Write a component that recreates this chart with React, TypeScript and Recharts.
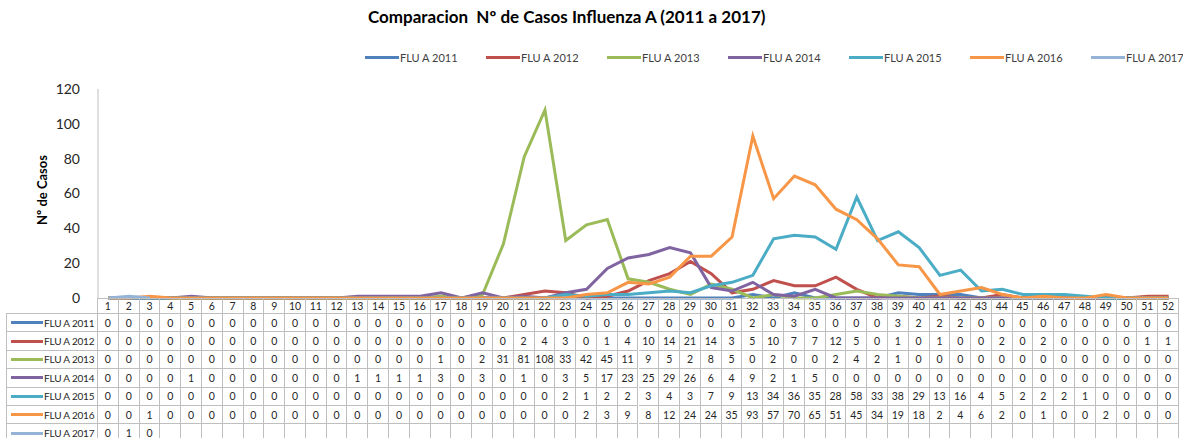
import { LineChart, Line, XAxis, YAxis } from 'recharts';

const WEEKS = Array.from({ length: 52 }, (_, i) => String(i + 1));

const FLU_2011 = [0,0,0,0,0,0,0,0,0,0,0,0,0,0,0,0,0,0,0,0,0,0,0,0,0,0,0,0,0,0,0,2,0,3,0,0,0,0,3,2,2,2,0,0,0,0,0,0,0,0,0,0];
const FLU_2012 = [0,0,0,0,0,0,0,0,0,0,0,0,0,0,0,0,0,0,0,0,2,4,3,0,1,4,10,14,21,14,3,5,10,7,7,12,5,0,1,0,1,0,0,2,0,2,0,0,0,0,1,1];
const FLU_2013 = [0,0,0,0,0,0,0,0,0,0,0,0,0,0,0,0,1,0,2,31,81,108,33,42,45,11,9,5,2,8,5,0,2,0,0,2,4,2,1,0,0,0,0,0,0,0,0,0,0,0,0,0];
const FLU_2014 = [0,0,0,0,1,0,0,0,0,0,0,0,1,1,1,1,3,0,3,0,1,0,3,5,17,23,25,29,26,6,4,9,2,1,5,0,0,0,0,0,0,0,0,0,0,0,0,0,0,0,0,0];
const FLU_2015 = [0,0,0,0,0,0,0,0,0,0,0,0,0,0,0,0,0,0,0,0,0,0,2,1,2,2,3,4,3,7,9,13,34,36,35,28,58,33,38,29,13,16,4,5,2,2,2,1,0,0,0,0];
const FLU_2016 = [0,0,1,0,0,0,0,0,0,0,0,0,0,0,0,0,0,0,0,0,0,0,0,2,3,9,8,12,24,24,35,93,57,70,65,51,45,34,19,18,2,4,6,2,0,1,0,0,2,0,0,0];
const FLU_2017 = [0,1,0];

const SERIES = [
  { name: 'FLU A 2011', values: FLU_2011, color: '#4F81BD' },
  { name: 'FLU A 2012', values: FLU_2012, color: '#C0504D' },
  { name: 'FLU A 2013', values: FLU_2013, color: '#9BBB59' },
  { name: 'FLU A 2014', values: FLU_2014, color: '#8064A2' },
  { name: 'FLU A 2015', values: FLU_2015, color: '#4BACC6' },
  { name: 'FLU A 2016', values: FLU_2016, color: '#F79646' },
  { name: 'FLU A 2017', values: FLU_2017, color: '#95B3D7' },
];

const Y_TICKS = [0, 20, 40, 60, 80, 100, 120];

const W = 1183;
const H = 438;
const PLOT_LEFT = 98;
const PLOT_RIGHT = 1179;
const PLOT_TOP = 89;
const PLOT_BOTTOM = 298;
const Y_AXIS_W = 40;
const COL_W = (PLOT_RIGHT - PLOT_LEFT) / WEEKS.length;
const GRID = '#BFBFBF';
const FONT = 'Lato, "Open Sans", sans-serif';

const data = WEEKS.map((week, i) => {
  const row: Record<string, string | number | null> = { week };
  SERIES.forEach((s) => {
    row[s.name] = i < s.values.length ? s.values[i] : null;
  });
  return row;
});

function TopLegend() {
  return (
    <div
      style={{
        position: 'absolute', left: 365, top: 51, display: 'flex',
        fontFamily: FONT, fontSize: 11, color: '#404040', whiteSpace: 'nowrap',
      }}
    >
      {SERIES.map((s) => (
        <div key={s.name} style={{ width: 121, display: 'flex', alignItems: 'center' }}>
          <span style={{ display: 'inline-block', width: 34, height: 3, background: s.color }} />
          <span style={{ marginLeft: 1 }}>{s.name}</span>
        </div>
      ))}
    </div>
  );
}

function DataTable() {
  const headerH = 16;
  const rowH = 18.4;
  const cell = (left: number, top: number, width: number, height: number, text: string | number, key: string) => (
    <div
      key={key}
      style={{
        position: 'absolute', left, top, width, height,
        borderRight: `1px solid ${GRID}`, borderBottom: `1px solid ${GRID}`,
        boxSizing: 'border-box', display: 'flex', alignItems: 'center', justifyContent: 'center',
      }}
    >
      {text}
    </div>
  );
  const items: JSX.Element[] = [];
  WEEKS.forEach((w, i) => {
    items.push(cell(PLOT_LEFT + i * COL_W, 0, COL_W, headerH, w, `h${i}`));
  });
  SERIES.forEach((s, r) => {
    const top = headerH + r * rowH;
    items.push(
      <div
        key={`l${r}`}
        style={{
          position: 'absolute', left: 6, top, width: PLOT_LEFT - 6, height: rowH,
          borderLeft: `1px solid ${GRID}`, borderRight: `1px solid ${GRID}`, borderBottom: `1px solid ${GRID}`,
          boxSizing: 'border-box', display: 'flex', alignItems: 'center', whiteSpace: 'nowrap',
        }}
      >
        <span style={{ display: 'inline-block', width: 32, height: 3, background: s.color, marginLeft: 4, flexShrink: 0 }} />
        <span style={{ marginLeft: 1, fontSize: 10, letterSpacing: -0.2 }}>{s.name}</span>
      </div>
    );
    WEEKS.forEach((_, i) => {
      const v = i < s.values.length ? s.values[i] : '';
      items.push(cell(PLOT_LEFT + i * COL_W, top, COL_W, rowH, v, `c${r}-${i}`));
    });
  });
  return (
    <div
      style={{
        position: 'absolute', left: 0, top: PLOT_BOTTOM, width: W, height: H - PLOT_BOTTOM,
        fontFamily: FONT, fontSize: 10.5, color: '#262626',
      }}
    >
      <div style={{ position: 'absolute', left: 6, top: headerH - 1, width: PLOT_LEFT - 6, height: 1, background: GRID }} />
      <div style={{ position: 'absolute', left: PLOT_LEFT - 1, top: 0, width: 1, height: H, background: GRID }} />
      <div style={{ position: 'absolute', left: PLOT_LEFT, top: 0, width: PLOT_RIGHT - PLOT_LEFT, height: 1, background: GRID }} />
      {items}
    </div>
  );
}

export default function App() {
  return (
    <div style={{ position: 'absolute', left: 0, top: 0, width: W, height: H, background: '#fff', overflow: 'hidden' }}>
      <div
        style={{
          position: 'absolute', left: 368, top: 6, whiteSpace: 'nowrap',
          fontFamily: FONT, fontWeight: 700, fontSize: 17, color: '#000',
        }}
      >
        Comparacion&nbsp; Nº de Casos Influenza A (2011 a 2017)
      </div>
      <div
        style={{
          position: 'absolute', left: 42, top: 190, transform: 'translate(-50%, -50%) rotate(-90deg)',
          fontFamily: FONT, fontWeight: 700, fontSize: 13, whiteSpace: 'nowrap', color: '#000',
        }}
      >
        Nº de Casos
      </div>
      <TopLegend />
      <LineChart
        width={W}
        height={H}
        data={data}
        margin={{ top: PLOT_TOP, right: W - PLOT_RIGHT, bottom: H - PLOT_BOTTOM, left: PLOT_LEFT - Y_AXIS_W }}
        style={{ position: 'absolute', left: 0, top: 0 }}
      >
        <XAxis dataKey="week" hide padding={{ left: COL_W / 2, right: COL_W / 2 }} />
        <YAxis
          width={Y_AXIS_W}
          domain={[0, 120]}
          ticks={Y_TICKS}
          interval={0}
          tickLine={false}
          axisLine={{ stroke: GRID }}
          tick={{ fill: '#262626', fontSize: 14, fontFamily: FONT }}
          tickMargin={12}
        />
        {SERIES.map((s) => (
          <Line
            key={s.name}
            dataKey={s.name}
            stroke={s.color}
            strokeWidth={3}
            dot={false}
            connectNulls={false}
            isAnimationActive={false}
          />
        ))}
      </LineChart>
      <DataTable />
    </div>
  );
}
